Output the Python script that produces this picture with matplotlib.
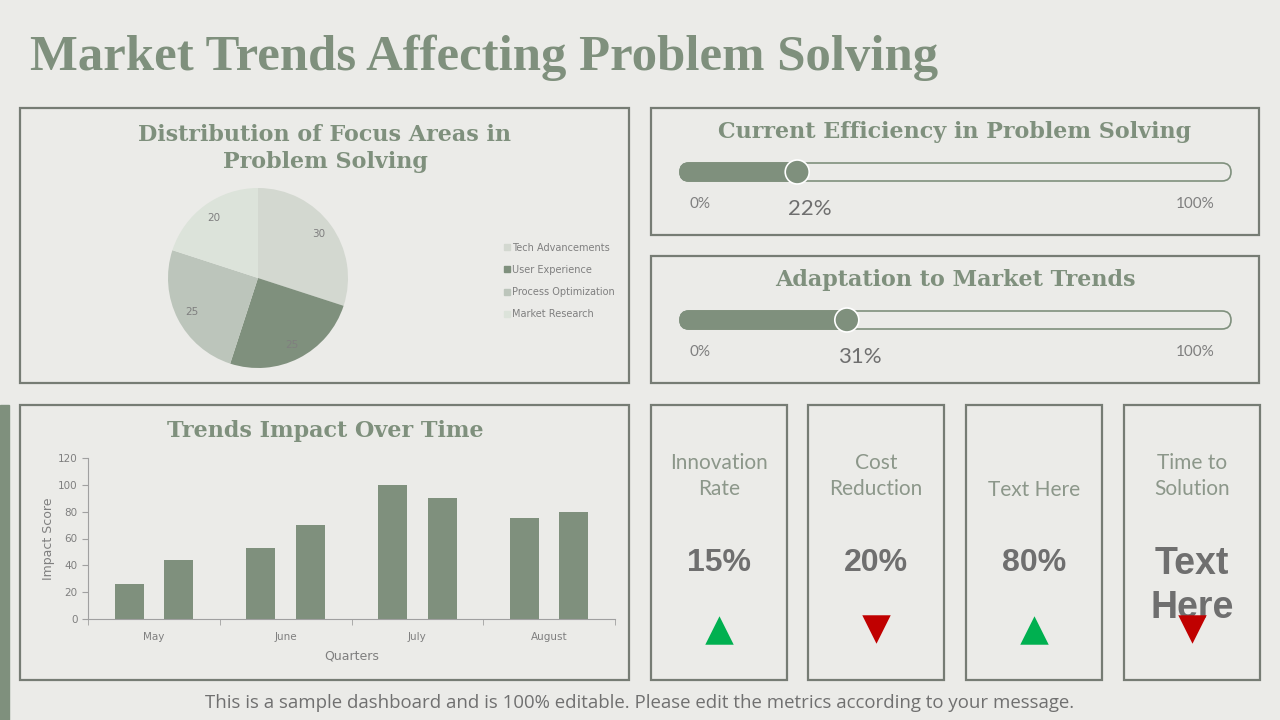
import matplotlib.pyplot as plt
from matplotlib.patches import Rectangle, FancyBboxPatch, Circle
from matplotlib.lines import Line2D
import numpy as np

# ---- data ----
pie_labels = ['Tech Advancements', 'User Experience', 'Process Optimization', 'Market Research']
pie_values = [30, 25, 25, 20]

months = ['May', 'June', 'July', 'August']
series_a = [26, 53, 100, 75]
series_b = [44, 70, 90, 80]

gauge_titles = ['Current Efficiency in Problem Solving', 'Adaptation to Market Trends']
gauge_values = [22, 31]

kpi_labels = ['Innovation\nRate', 'Cost\nReduction', 'Text Here', 'Time to\nSolution']
kpi_values = ['15%', '20%', '80%', 'Text\nHere']
kpi_up = [True, False, True, False]

# ---- style ----
BG = '#EBEBE8'
GREEN = '#7F907D'
BORDER = '#767C74'
GREY = '#7F7F7F'
pie_colors = ['#D3D8D0', GREEN, '#BCC5BB', '#DCE3DA']
SERIF = 'Liberation Serif'
TSERIF = 'DejaVu Serif'

fig = plt.figure(figsize=(12.8, 7.2), dpi=100, facecolor=BG)
base = fig.add_axes([0, 0, 1, 1])
base.set_xlim(0, 1280)
base.set_ylim(720, 0)
base.axis('off')
base.set_facecolor(BG)

base.text(30, 70, 'Market Trends Affecting Problem Solving', fontsize=36.5, fontweight='bold',
          family=SERIF, color=GREEN, va='baseline', ha='left')

# left accent bar
base.add_patch(Rectangle((0, 405), 9, 315, color=GREEN))

def panel(x0, y0, x1, y1):
    base.add_patch(Rectangle((x0, y0), x1 - x0, y1 - y0, fill=False, edgecolor=BORDER, lw=1.6))

def panel_title(x, y, s):
    base.text(x, y, s, fontsize=16, fontweight='bold', family=TSERIF, color=GREEN,
              ha='center', va='baseline')

panel(20, 108, 629, 383)
panel(651, 108, 1259, 235)
panel(651, 256, 1259, 383)
panel(20, 405, 629, 680)
card_x = [651, 808, 966, 1124]
for cx in card_x:
    panel(cx, 405, cx + 136, 680)

# ---- pie ----
panel_title(325, 141, 'Distribution of Focus Areas in')
panel_title(325, 168, 'Problem Solving')
pax = fig.add_axes([168 / 1280, 1 - 368 / 720, 180 / 1280, 180 / 720])
wedges, texts = pax.pie(pie_values, colors=pie_colors, startangle=90, counterclock=False,
                        labels=[str(v) for v in pie_values], labeldistance=0.83,
                        textprops=dict(color=GREY, fontsize=7.5))
for t in texts:
    t.set_ha('center')
    t.set_va('center')
pax.set_xlim(-1, 1)
pax.set_ylim(-1, 1)
pax.set_aspect('equal')
handles = [Line2D([], [], marker='s', ls='', color=c, markersize=5) for c in pie_colors]
fig.legend(handles, pie_labels, loc='upper left', bbox_to_anchor=(495 / 1280, 1 - 234 / 720),
           frameon=False, fontsize=7, labelcolor=GREY, handlelength=0.6, handletextpad=0.3,
           labelspacing=1.25)

# ---- sliders ----
tx0, tx1 = 680, 1231
for i, (title, val) in enumerate(zip(gauge_titles, gauge_values)):
    dy = i * 148
    panel_title(955, 138 + dy, title)
    ty = 172 + dy
    base.add_patch(FancyBboxPatch((tx0, ty - 9), tx1 - tx0, 18,
                                  boxstyle='round,pad=0,rounding_size=9',
                                  facecolor=BG, edgecolor=GREEN, lw=1.2))
    kx = tx0 + (tx1 - tx0) * val / 100 - 4
    base.add_patch(FancyBboxPatch((tx0, ty - 9), kx - tx0, 18,
                                  boxstyle='round,pad=0,rounding_size=9',
                                  facecolor=GREEN, edgecolor=GREEN, lw=1.2))
    base.add_patch(Circle((kx, ty), 12, facecolor=GREEN, edgecolor='white', lw=1.2, zorder=5))
    base.text(700, 204 + dy, '0%', fontsize=11, color=GREY, ha='center', va='center', family='Lato')
    base.text(1195, 204 + dy, '100%', fontsize=11, color=GREY, ha='center', va='center', family='Lato')
    base.text(kx + 13, 209 + dy, f'{val}%', fontsize=16, color='#6F6F6F', ha='center', va='center',
              family='Lato')

# ---- bars ----
panel_title(325, 437, 'Trends Impact Over Time')
bax = fig.add_axes([88 / 1280, 1 - 619 / 720, (615 - 88) / 1280, (619 - 458) / 720])
bax.set_facecolor('none')
x = np.arange(len(months))
bax.bar(x - 0.187, series_a, width=0.22, color=GREEN)
bax.bar(x + 0.187, series_b, width=0.22, color=GREEN)
bax.set_xlim(-0.5, len(months) - 0.5)
bax.set_ylim(0, 120)
bax.set_yticks(range(0, 121, 20))
bax.set_xticks(x)
bax.set_xticklabels(months)
bax.set_xticks(np.arange(-0.5, len(months)), minor=True)
bax.tick_params(axis='x', which='major', length=0, pad=9, labelsize=7.5, labelcolor=GREY)
bax.tick_params(axis='x', which='minor', length=4, color='#A0A0A0', direction='out')
bax.tick_params(axis='y', length=4, color='#A0A0A0', labelsize=7.5, labelcolor=GREY)
for s in ['top', 'right']:
    bax.spines[s].set_visible(False)
for s in ['left', 'bottom']:
    bax.spines[s].set_color('#A0A0A0')
bax.set_xlabel('Quarters', fontsize=9, color=GREY, labelpad=6)
bax.set_ylabel('Impact Score', fontsize=9, color=GREY, labelpad=2)

# ---- KPI cards ----
for cx, lab, val, up in zip(card_x, kpi_labels, kpi_values, kpi_up):
    mx = cx + 68
    if '\n' in lab:
        base.text(mx, 476, lab, fontsize=15, color='#8C978A', ha='center', va='center',
                  family='Lato', linespacing=1.4)
    else:
        base.text(mx, 490, lab, fontsize=15, color='#8C978A', ha='center', va='center', family='Lato')
    if '\n' in val:
        base.text(mx, 586, val, fontsize=27, fontweight='bold', color='#6F6F6F', ha='center',
                  va='center', family='Liberation Sans', linespacing=1.25)
    else:
        base.text(mx, 563, val, fontsize=23, fontweight='bold', color='#6F6F6F', ha='center',
                  va='center', family='Liberation Sans')
    base.scatter([mx], [630 if up else 629], marker='^' if up else 'v', s=420,
                 color='#00B050' if up else '#C00000', zorder=6, linewidths=0)

base.text(640, 703, 'This is a sample dashboard and is 100% editable. Please edit the metrics according to your message.',
          fontsize=13.4, color='#707070', ha='center', va='center', family='Open Sans')

fig.savefig('out.png', dpi=100, facecolor=BG)
